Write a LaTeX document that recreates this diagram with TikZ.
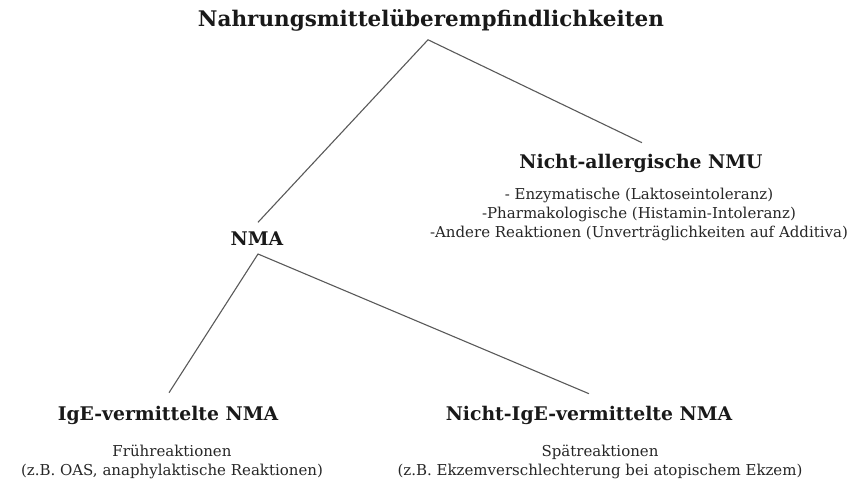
\documentclass[tikz,border=0pt]{standalone}
\usepackage{fontspec}
\setmainfont{DejaVu Serif}
\begin{document}
\begin{tikzpicture}[x=1pt,y=-1pt,
  every node/.style={inner sep=0pt, outer sep=0pt, text=black!90},
  head/.style={font=\bfseries\fontsize{18.8}{22}\selectfont, anchor=base},
  toptitle/.style={font=\bfseries\fontsize{21.5}{25}\selectfont, anchor=base},
  desc/.style={font=\fontsize{15}{19}\selectfont, align=center, anchor=base, text=black!85},
  conn/.style={draw=black!65, line width=1.1pt}]
\useasboundingbox (0,0) rectangle (854,479);
\node[toptitle] (title) at (431,27) {Nahrungsmittelüberempfindlichkeiten};
\node[head] (nmu) at (641,168) {Nicht-allergische NMU};
\node[desc] (nmulist) at (639,237) {- Enzymatische (Laktoseintoleranz)\\-Pharmakologische (Histamin-Intoleranz)\\-Andere Reaktionen (Unverträglichkeiten auf Additiva)};
\node[head] (nma) at (257,245) {NMA};
\node[head] (ige) at (168,420) {IgE-vermittelte NMA};
\node[desc] (igedesc) at (172,475) {Frühreaktionen\\(z.B. OAS, anaphylaktische Reaktionen)};
\node[head] (nonige) at (589,420) {Nicht-IgE-vermittelte NMA};
\node[desc] (nonigedesc) at (600,475) {Spätreaktionen\\(z.B. Ekzemverschlechterung bei atopischem Ekzem)};
\coordinate (apex) at ([xshift=-3pt,yshift=-8pt]title.south);
\draw[conn] ([xshift=1pt,yshift=11pt]nmu.north) -- (apex) -- ([xshift=1pt,yshift=9pt]nma.north);
\draw[conn] ([xshift=1pt,yshift=13pt]ige.north) -- ([xshift=1pt,yshift=-9pt]nma.south) -- ([yshift=12pt]nonige.north);
\end{tikzpicture}
\end{document}
